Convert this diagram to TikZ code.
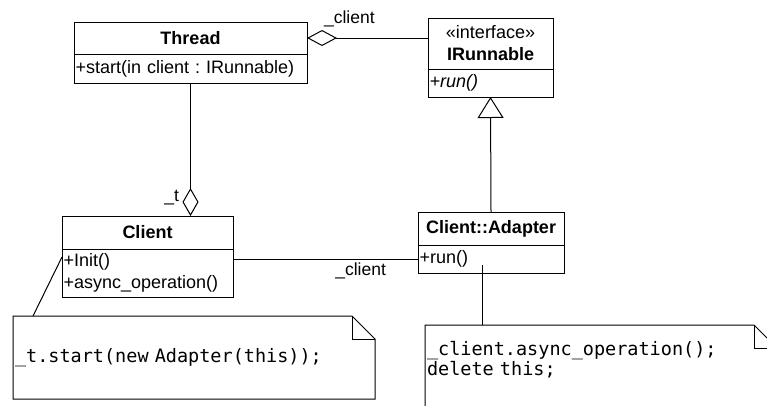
\documentclass[tikz,border=0pt]{standalone}
\usepackage{fontspec}
\setmainfont{Liberation Sans}
\setmonofont{DejaVu Sans Mono}
\frenchspacing
\usetikzlibrary{arrows.meta}
\usetikzlibrary{calc,positioning}

\tikzset{
    classhead/.style={draw, outer sep=0pt, inner sep=0pt, align=center, font=\fontsize{18}{22}\selectfont},
    classbody/.style={draw, outer sep=0pt, inner xsep=1.5pt, inner ysep=0pt, align=left, font=\fontsize{18}{22}\selectfont},
    notebox/.style={outer sep=0pt, inner xsep=2pt, inner ysep=0pt, align=left, font=\ttfamily\fontsize{18.5}{20}\selectfont},
    rolelabel/.style={inner sep=2pt, font=\fontsize{17.5}{20}\selectfont},
}

\begin{document}
\begin{tikzpicture}[>=Stealth, x=1pt, y=-1pt, line width=1pt]

    \useasboundingbox (0,0) rectangle (767,405);
    \clip (0,0) rectangle (767,405);

    \node[classhead, minimum width=233pt, minimum height=32pt] (threadhead) at (190.5,38) {\textbf{Thread}};
    \node[classbody, text width=230pt, minimum height=29pt, below=0pt of threadhead] (threadbody) {+start(in client : IRunnable)};

    \node[classhead, minimum width=125pt, minimum height=51pt] (irunhead) at (490.5,43.5) {«interface»\\\textbf{IRunnable}};
    \node[classbody, text width=122pt, minimum height=28pt, below=0pt of irunhead] (irunbody) {\textit{+run()}};

    \node[classhead, minimum width=171pt, minimum height=33pt] (clienthead) at (147.5,232.5) {\textbf{Client}};
    \node[classbody, text width=168pt, minimum height=48pt, below=0pt of clienthead] (clientbody) {+Init()\\+async\_operation()};

    \node[classhead, minimum width=146pt, minimum height=33pt] (adapterhead) at (491,228.5) {\textbf{Client::Adapter}};
    \node[classbody, text width=143pt, minimum height=28pt, below=0pt of adapterhead] (adapterbody) {+run()};

    \node[notebox, text width=358pt, minimum height=83pt] (startnote) at (194,357.5) {\_t.start(new Adapter(this));};
    \node[notebox, text width=348pt, minimum height=70pt, anchor=north west] (deletenote) at (425,325) {\_client.async\_operation();\\delete this;};

    \draw (startnote.north west) -- ($(startnote.north east)+(-23,0)$) -- ($(startnote.north east)+(0,23)$) -- (startnote.south east) -- (startnote.south west) -- cycle;
    \draw ($(startnote.north east)+(-23,0)$) |- ($(startnote.north east)+(0,23)$);
    \draw ($(deletenote.south west)+(0,15)$) -- (deletenote.north west) -- ($(deletenote.north east)+(-23,0)$) -- ($(deletenote.north east)+(0,23)$) -- ($(deletenote.south east)+(0,15)$);
    \draw ($(deletenote.north east)+(-23,0)$) |- ($(deletenote.north east)+(0,23)$);

    \draw[{Diamond[open, length=30pt, width=16pt]}-] (threadhead.east) -- node[rolelabel, pos=0.35, above=9pt] (threadrole) {\_client} (threadhead.east -| irunhead.west);
    \draw[-{Diamond[open, length=28pt, width=16pt]}] (threadbody.south) -- node[rolelabel, pos=0.86, left=9pt] (trole) {\_t} (threadbody.south |- clienthead.north);
    \draw[-{Triangle[open, length=21pt, width=26pt]}] (adapterhead.north) -- (irunbody.south);
    \draw (adapterbody.west) -- node[rolelabel, pos=0.31, below=1pt] (clientrole) {\_client} (adapterbody.west -| clientbody.east);

    \coordinate (initop) at ($(clientbody.north west)+(0,8)$);
    \draw (initop) -- ($(startnote.north west)+(20,0)$);
    \coordinate (runop) at (482,265);
    \draw (runop) -- (runop |- deletenote.north);

\end{tikzpicture}
\end{document}
